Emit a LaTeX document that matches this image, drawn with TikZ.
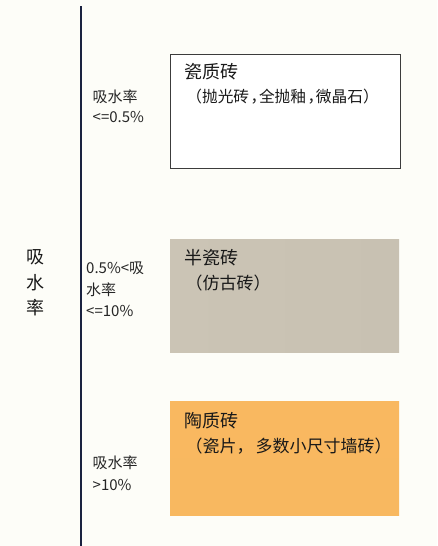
\documentclass[tikz,border=0pt]{standalone}
\usepackage{fontspec}
\setmainfont{Noto Sans CJK SC}
\newfontfamily\haltfont{Noto Sans CJK SC}[RawFeature=+halt]
\begin{document}
\begin{tikzpicture}[x=1pt,y=-1pt,
  lbl/.style={anchor=west,inner sep=0pt,font=\fontsize{15}{16}\selectfont,text=black!85},
  ttl/.style={anchor=west,inner sep=0pt,font=\fontsize{18}{20}\selectfont,text=black!90},
  sub/.style={anchor=west,inner sep=0pt,font=\fontsize{17}{18}\selectfont,text=black!90},
  axl/.style={anchor=center,inner sep=0pt,font=\fontsize{18}{20}\selectfont,text=black!90},
  box/.style={inner sep=0pt}]
\fill[fill={rgb,255:red,253;green,253;blue,248}] (0,0) rectangle (437,546);
\useasboundingbox (0,0) rectangle (437,546);
% axis
\coordinate (atop) at (81,6);
\coordinate (abot) at (81,546);
\draw[line width=2.6pt,draw={rgb,255:red,26;green,34;blue,64}] (atop) -- (abot);
% boxes
\node[box,draw={rgb,255:red,60;green,60;blue,60},line width=0.7pt,fill=white,minimum width=230,minimum height=114,anchor=north west] (b1) at (169.5,53.5) {};
\shade[left color={rgb,255:red,203;green,196;blue,181},right color={rgb,255:red,200;green,193;blue,178}] (170,239) rectangle (399,352);
\node[box,minimum width=229,minimum height=113,anchor=north west] (b2) at (170,239) {};
\shade[top color={rgb,255:red,249;green,184;blue,96},bottom color={rgb,255:red,248;green,184;blue,96}] (170,401) rectangle (399,515);
\node[box,minimum width=229,minimum height=114,anchor=north west] (b3) at (170,401) {};
% titles
\node[ttl] (t1) at (184.5,72) {瓷质砖};
\node[sub,font=\fontsize{15.7}{18}\selectfont] (s1) at (194,97) {\haltfont （抛光砖\kern1.5pt，\kern0.5pt 全抛釉\kern1.5pt，\kern0.5pt 微晶石）};
\node[ttl] (t2) at (184.5,258) {半瓷砖};
\node[sub] (s2) at (185.5,283) {（仿古砖）};
\node[ttl] (t3) at (184.5,421) {陶质砖};
\node[sub] (s3) at (185.5,446) {（瓷片，\kern2pt 多数小尺寸墙砖）};
% left labels
\node[lbl] (l1a) at (92.5,97) {吸水率};
\node[lbl] (l1b) at (92.5,117) {<=0.5\%};
\node[lbl] (l2a) at (86,268) {0.5\%<吸};
\node[lbl] (l2b) at (86,290) {水率};
\node[lbl] (l2c) at (86,311) {<=10\%};
\node[lbl] (l3a) at (92.5,463) {吸水率};
\node[lbl] (l3b) at (92.5,485) {>10\%};
% axis title
\node[axl] (axt) at (35,257) {吸};
\node[axl] (axt2) at (35,283) {水};
\node[axl] (axt3) at (35,308) {率};
\end{tikzpicture}
\end{document}
